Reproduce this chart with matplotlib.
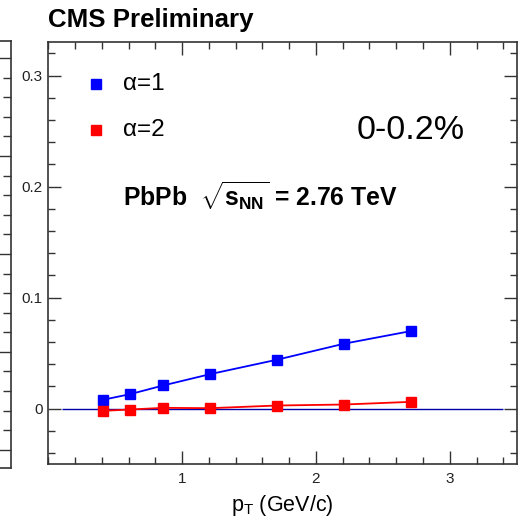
import matplotlib
matplotlib.use("Agg")
import matplotlib.pyplot as plt
from matplotlib.ticker import MultipleLocator

plt.rcParams['font.family'] = ['Liberation Sans', 'DejaVu Sans']
plt.rcParams['mathtext.fontset'] = 'custom'
plt.rcParams['mathtext.rm'] = 'Liberation Sans'
plt.rcParams['mathtext.bf'] = 'Liberation Sans:bold'
plt.rcParams['mathtext.it'] = 'Liberation Sans:italic'

# data
pt = [0.41, 0.61, 0.86, 1.21, 1.71, 2.21, 2.71]
alpha1 = [0.0079, 0.0129, 0.0208, 0.0310, 0.0440, 0.0584, 0.0698]
alpha2 = [-0.0021, -0.0009, 0.0006, 0.0003, 0.0027, 0.0036, 0.0060]
series_labels = ['α=1', 'α=2']
series_colors = ['#0000ff', '#ff0000']
xticks = [1, 2, 3]
yticks = [0, 0.1, 0.2, 0.3]

W, H = 523, 522
fig = plt.figure(figsize=(W / 100, H / 100), dpi=100)

spine_c = '#333333'

# partial neighbouring panel on the left
axl = fig.add_axes([(10.7 - 300) / W, (H - 467.7) / H, 300 / W, (467.7 - 41) / H])
axl.set_xlim(0, 1)
axl.set_ylim(-0.183, 4.175)
axl.yaxis.set_major_locator(MultipleLocator(1))
axl.yaxis.set_minor_locator(MultipleLocator(0.2))
axl.set_xticks([])
axl.yaxis.tick_right()
axl.tick_params(axis='y', which='both', direction='in', labelright=False, color=spine_c)
axl.tick_params(axis='y', which='major', length=11, width=1)
axl.tick_params(axis='y', which='minor', length=6, width=1)
for s in axl.spines.values():
    s.set_color(spine_c)
    s.set_linewidth(1.2)
axl.spines['left'].set_visible(False)

# main panel
ax = fig.add_axes([48.3 / W, (H - 464) / H, (516.7 - 48.3) / W, (464 - 42.3) / H])
ax.set_xlim(0, 3.5)
ax.set_ylim(-0.05, 0.33)

ax.hlines(0, 0.1, 3.4, color='#0000aa', lw=1.0, zorder=1)

for y, lab, c in zip([alpha1, alpha2], series_labels, series_colors):
    ax.plot(pt, y, color=c, lw=1.3, marker='s', ms=7.5, mec=c, mfc=c, zorder=3)

ax.set_xticks(xticks)
ax.set_yticks(yticks)
ax.set_yticklabels(['0', '0.1', '0.2', '0.3'])
ax.xaxis.set_minor_locator(MultipleLocator(0.2))
ax.yaxis.set_minor_locator(MultipleLocator(0.02))
ax.tick_params(which='both', direction='in', top=True, right=True, color=spine_c,
               labelsize=11, labelcolor='#222222')
ax.tick_params(which='major', length=9.5, width=1)
ax.tick_params(which='minor', length=5, width=1)
ax.tick_params(axis='x', pad=6)
ax.tick_params(axis='y', pad=4)
for s in ax.spines.values():
    s.set_color(spine_c)
    s.set_linewidth(1.2)

ax.set_xlabel(r'p$_{\mathrm{T}}$ (GeV/c)', fontsize=15.5, labelpad=5)

# legend (manual)
for i, (lab, c) in enumerate(zip(series_labels, series_colors)):
    yy = 0.9 - i * 0.107
    ax.plot([0.101], [yy], transform=ax.transAxes, marker='s', ms=7.5, color=c, ls='none',
            clip_on=False)
    ax.text(0.159, yy, lab, transform=ax.transAxes, fontsize=17.5, va='center', ha='left')

ax.text(0.8896, 0.792, '0-0.2%', transform=ax.transAxes, fontsize=24.5, va='center', ha='right')
ax.text(0.16, 0.635, r'PbPb  $\sqrt{\mathbf{s}_{\mathbf{NN}}}$ = 2.76 TeV', transform=ax.transAxes,
        fontsize=17.8, fontweight='bold', va='center', ha='left')

fig.text(48 / W, 1 - 20 / H, 'CMS Preliminary', fontsize=18.6, fontweight='bold', va='center', ha='left')

fig.savefig('out.png', dpi=100)
